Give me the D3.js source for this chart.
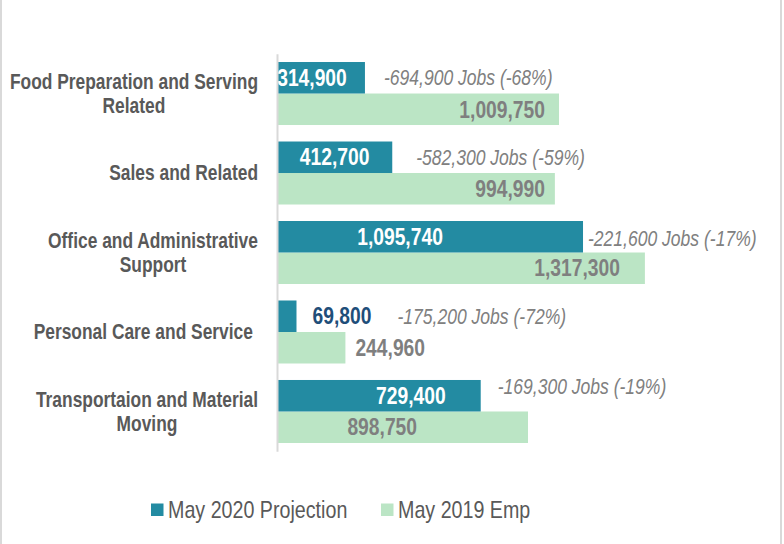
<!DOCTYPE html>
<html>
<head>
<meta charset="utf-8">
<script src="https://cdn.jsdelivr.net/npm/d3@7"></script>
<style>
  html, body { margin: 0; padding: 0; background: #ffffff; }
  svg { display: block; }
  text { font-family: 'Liberation Sans', Arial, sans-serif; }
</style>
</head>
<body>
<svg></svg>
<script>
// Chart data
let categories = [
    ['Food Preparation and Serving', 'Related'],
    ['Sales and Related'],
    ['Office and Administrative', 'Support'],
    ['Personal Care and Service'],
    ['Transportaion and Material', 'Moving']
];
let projection2020 = [314900, 412700, 1095740, 69800, 729400];
let employment2019 = [1009750, 994990, 1317300, 244960, 898750];
let jobChange = [-694900, -582300, -221600, -175200, -169300];
let pctChange = [-68, -59, -17, -72, -19];
let seriesNames = ['May 2020 Projection', 'May 2019 Emp'];

// Label tweaks (pixels), the original labels were dragged around by hand
let catLabelRight = [258, 258, 258, 253, 258];
let projLabelDx = [-9, 0, -30, 16, 32];
let projLabelOutside = [false, false, false, true, false];
let empLabelDx = [-14, -10, -25, 10, -111];
let empLabelOutside = [false, false, false, true, false];
let noteDx = [19, 24, 5, 101, 17];
let noteDy = [0, 0, 2, 0, -9];

// SVG dimensions
let width = 784, height = 544;
let left = 277;
let narrow = 0.82; // no Arial Narrow here, so squeeze Liberation Sans

let colors = ['#238ba2', '#bbe5c5'];

let svg = d3.select('svg')
    .attr('width', width)
    .attr('height', height);

// Put a horizontally squeezed text at x, y
function narrowText(parent, x, y, str) {
    return parent.append('g')
        .attr('transform', `translate(${x}, ${y}) scale(${narrow}, 1)`)
        .append('text')
        .attr('dy', '0.35em')
        .text(str);
}

// Frame lines on the sides
svg.append('rect').attr('x', 0).attr('y', 0).attr('width', 2).attr('height', height).attr('fill', '#d9d9d9');
svg.append('rect').attr('x', 780).attr('y', 0).attr('width', 2).attr('height', height).attr('fill', '#d9d9d9');

let xScale = d3.scaleLinear()
    .domain([0, 1800000])
    .range([left, left + 502.7]);

let yScale = d3.scaleBand()
    .domain(d3.range(categories.length))
    .range([53.75, 451.25])
    .paddingInner(0.2075)
    .paddingOuter(0.104);

let subScale = d3.scaleBand()
    .domain([0, 1])
    .range([0, yScale.bandwidth()]);

let fmt = d3.format(',');

// Bars
let groups = svg.selectAll('g.cat')
    .data(categories)
    .enter()
    .append('g')
    .attr('class', 'cat')
    .attr('transform', (d, i) => `translate(0, ${yScale(i)})`);

groups.append('rect')
    .attr('x', xScale(0))
    .attr('y', subScale(1))
    .attr('width', (d, i) => xScale(employment2019[i]) - xScale(0))
    .attr('height', subScale.bandwidth())
    .attr('fill', colors[1]);

groups.append('rect')
    .attr('x', xScale(0))
    .attr('y', subScale(0))
    .attr('width', (d, i) => xScale(projection2020[i]) - xScale(0))
    .attr('height', subScale.bandwidth())
    .attr('fill', colors[0]);

// Axis line
svg.append('g')
    .attr('transform', `translate(${left}, 0)`)
    .call(d3.axisLeft(yScale).tickSize(0).tickFormat(''))
    .call(g => g.select('.domain').attr('stroke', '#d9d9d9').attr('stroke-width', 2));

// Category labels, lines centred on each other, block right-aligned
groups.each(function (lines, i) {
    let g = d3.select(this);
    let lineH = 24;
    let y0 = yScale.bandwidth() / 2 - (lines.length - 1) * lineH / 2;
    let texts = lines.map((l, k) => narrowText(g, 0, y0 + k * lineH, l)
        .attr('fill', '#595959')
        .attr('font-weight', 'bold')
        .attr('font-size', '21.2px')
        .attr('text-anchor', 'middle'));
    let w = d3.max(texts, t => t.node().getBBox().width) * narrow;
    texts.forEach((t, k) => {
        d3.select(t.node().parentNode)
            .attr('transform', `translate(${catLabelRight[i] - w / 2}, ${y0 + k * lineH}) scale(${narrow}, 1)`);
    });
});

// Value labels for 2020 projection
groups.each(function (d, i) {
    let x = projLabelOutside[i]
        ? xScale(projection2020[i]) + projLabelDx[i]
        : (xScale(0) + xScale(projection2020[i])) / 2 + projLabelDx[i];
    narrowText(d3.select(this), x, subScale(0) + subScale.bandwidth() / 2, fmt(projection2020[i]))
        .attr('text-anchor', projLabelOutside[i] ? 'start' : 'middle')
        .attr('fill', projLabelOutside[i] ? '#1f4e79' : '#ffffff')
        .attr('font-weight', 'bold')
        .attr('font-size', '23.5px');
});

// Value labels for 2019 employment
groups.each(function (d, i) {
    narrowText(d3.select(this), xScale(employment2019[i]) + empLabelDx[i],
        subScale(1) + subScale.bandwidth() / 2, fmt(employment2019[i]))
        .attr('text-anchor', empLabelOutside[i] ? 'start' : 'end')
        .attr('fill', '#7f7f7f')
        .attr('font-weight', 'bold')
        .attr('font-size', '23.5px');
});

// Change notes
groups.each(function (d, i) {
    narrowText(d3.select(this), xScale(projection2020[i]) + noteDx[i],
        subScale(0) + subScale.bandwidth() / 2 + noteDy[i],
        `${fmt(jobChange[i]).replace('−', '-')} Jobs (${pctChange[i]}%)`)
        .attr('fill', '#808080')
        .attr('font-style', 'italic')
        .attr('font-size', '21.4px');
});

// Legend
let legendX = [151, 381];
let legend = svg.selectAll('g.legend')
    .data(seriesNames)
    .enter()
    .append('g')
    .attr('class', 'legend')
    .attr('transform', (d, i) => `translate(${legendX[i]}, 510)`);

legend.append('rect')
    .attr('x', 0)
    .attr('y', -6.5)
    .attr('width', 12.5)
    .attr('height', 12.5)
    .attr('fill', (d, i) => colors[i]);

legend.each(function (d) {
    narrowText(d3.select(this), 17, 0, d)
        .attr('fill', '#595959')
        .attr('font-size', '24px');
});
</script>
</body>
</html>
